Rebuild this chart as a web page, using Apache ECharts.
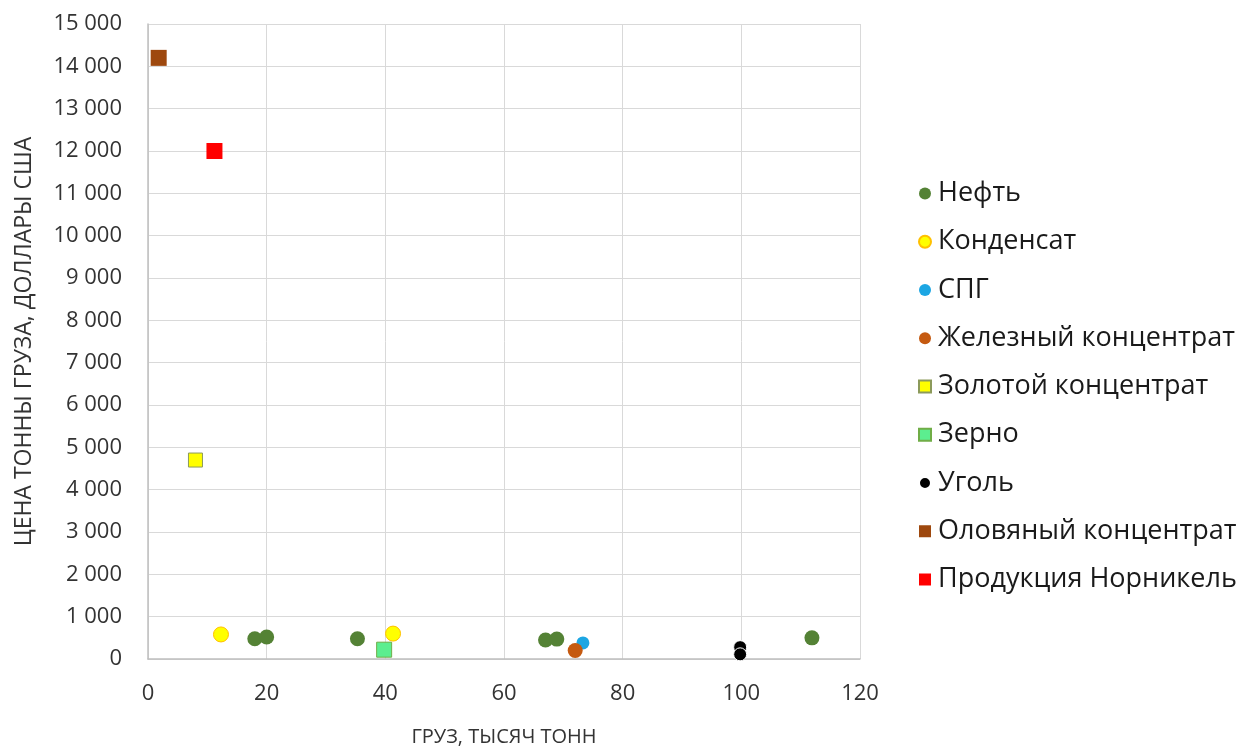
<!DOCTYPE html>
<html>
<head>
<meta charset="utf-8">
<script src="https://cdn.jsdelivr.net/npm/echarts@6/dist/echarts.min.js"></script>
<style>
  html, body { margin: 0; padding: 0; background: #fff; }
  #chart { width: 1241px; height: 746px; }
</style>
</head>
<body>
<div id="chart"></div>
<script>
// Cargo volume (thousand tonnes) vs price per tonne (USD)
const seriesNames = ['Нефть', 'Конденсат', 'СПГ', 'Железный концентрат', 'Золотой концентрат', 'Зерно', 'Уголь', 'Оловяный концентрат', 'Продукция Норникель'];

const oil = [[18.0, 480], [20.0, 520], [35.3, 480], [67.0, 450], [68.9, 470], [111.9, 500]];
const condensate = [[12.3, 580], [41.3, 600]];
const lng = [[73.3, 380]];
const ironConc = [[72.0, 200]];
const goldConc = [[8.0, 4700]];
const grain = [[39.8, 220]];
const coal = [[99.8, 280], [99.8, 110]];
const tinConc = [[1.8, 14200]];
const nornickel = [[11.2, 12000]];

const xTicks = { min: 0, max: 120, interval: 20 };
const yTicks = { min: 0, max: 15000, interval: 1000 };

const fmtThousands = v => String(v).replace(/\B(?=(\d{3})+(?!\d))/g, ' ');

const styles = [
  { data: oil, symbol: 'circle', size: 15, color: '#548235', border: '#548235' },
  { data: condensate, symbol: 'circle', size: 15, color: '#FFFF00', border: '#FFC000' },
  { data: lng, symbol: 'circle', size: 13, color: '#1CA6E3', border: '#1CA6E3' },
  { data: ironConc, symbol: 'circle', size: 15, color: '#C55A11', border: '#C55A11' },
  { data: goldConc, symbol: 'rect', size: 14, color: '#FFFF00', border: '#8C9A5B' },
  { data: grain, symbol: 'rect', size: 15, color: '#5CEE8F', border: '#70AD47' },
  { data: coal, symbol: 'circle', size: 13, color: '#000000', border: '#ffffff' },
  { data: tinConc, symbol: 'rect', size: 16, color: '#9E480E', border: '#9E480E' },
  { data: nornickel, symbol: 'rect', size: 16, color: '#FF0000', border: '#FF0000' }
];

const chart = echarts.init(document.getElementById('chart'));

const series = styles.map((s, i) => ({
  name: seriesNames[i],
  type: 'scatter',
  data: s.data,
  symbol: s.symbol,
  symbolSize: s.size,
  itemStyle: { color: s.color, borderColor: s.border, borderWidth: s.border === s.color ? 0 : 1, opacity: 1 },
  emphasis: { disabled: true }
}));

const textColor = '#333333';

chart.setOption({
  animation: false,
  backgroundColor: '#ffffff',
  textStyle: { fontFamily: 'Open Sans, sans-serif' },
  grid: { left: 148, right: 381, top: 24, bottom: 87, containLabel: false, outerBoundsMode: 'none' },
  legend: {
    orient: 'vertical',
    left: 913,
    top: 175,
    itemGap: 21.25,
    itemWidth: 12,
    itemHeight: 12,
    textStyle: { fontSize: 27, lineHeight: 25, color: '#1a1a1a', fontFamily: 'Open Sans, sans-serif', padding: [0, 0, 0, 2] },
    data: seriesNames.map((n, i) => ({ name: n, icon: styles[i].symbol === 'rect' ? 'rect' : 'circle' }))
  },
  xAxis: {
    type: 'value',
    min: xTicks.min, max: xTicks.max, interval: xTicks.interval,
    name: 'ГРУЗ, ТЫСЯЧ ТОНН',
    nameLocation: 'middle',
    nameGap: 68,
    nameTextStyle: { fontSize: 20, color: textColor },
    axisLine: { show: true, onZero: false, lineStyle: { color: '#BFBFBF', width: 1.5 } },
    axisTick: { show: false },
    axisLabel: { fontSize: 22, color: textColor, margin: 24 },
    splitLine: { show: true, lineStyle: { color: '#D9D9D9', width: 1 } }
  },
  yAxis: {
    type: 'value',
    min: yTicks.min, max: yTicks.max, interval: yTicks.interval,
    name: 'ЦЕНА ТОННЫ ГРУЗА, ДОЛЛАРЫ США',
    nameLocation: 'middle',
    nameGap: 112,
    nameRotate: 90,
    nameTextStyle: { fontSize: 23, color: textColor },
    axisLine: { show: true, lineStyle: { color: '#BFBFBF', width: 1.5 } },
    axisTick: { show: false },
    axisLabel: { fontSize: 22, color: textColor, margin: 26, formatter: fmtThousands },
    splitLine: { show: true, lineStyle: { color: '#D9D9D9', width: 1 } }
  },
  series: series
});
</script>
</body>
</html>
